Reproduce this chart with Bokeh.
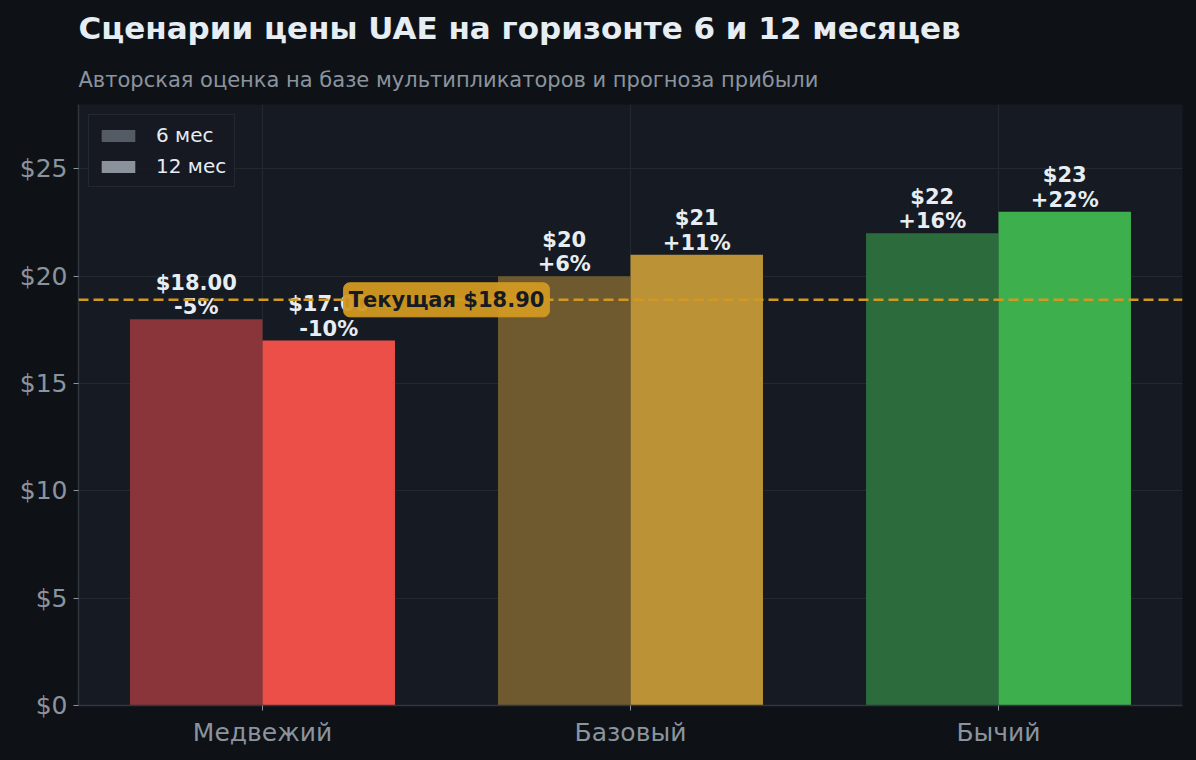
from bokeh.plotting import figure
from bokeh.models import (ColumnDataSource, FactorRange, FixedTicker, NumeralTickFormatter,
                          Span, Label, Legend, LegendItem, Title)
from bokeh.core.properties import value
from bokeh.transform import dodge
from bokeh.embed import file_html
from bokeh.resources import INLINE

# --- data ---
scenarios = ['Медвежий', 'Базовый', 'Бычий']
price_6m = [18.0, 20.0, 22.0]
price_12m = [17.0, 21.0, 23.0]
labels_6m = ['$18.00\n-5%', '$20\n+6%', '$22\n+16%']
labels_12m = ['$17.00\n-10%', '$21\n+11%', '$23\n+22%']
current_price = 18.90
y_ticks = [0, 5, 10, 15, 20, 25]

colors_6m = ['#8a3539', '#6f5a30', '#2b6b3c']
colors_12m = ['#ec4f48', '#bb9236', '#3daf4d']

BG = '#0e1217'
PANEL = '#161a22'
GRID = '#232831'
MUTED = '#8b949e'
TEXT = '#e6edf3'
ORANGE = '#d29922'
FONT = 'DejaVu Sans'

src = ColumnDataSource(data=dict(
    cat=scenarios, p6=price_6m, p12=price_12m,
    l6=labels_6m, l12=labels_12m, c6=colors_6m, c12=colors_12m))

p = figure(width=1196, height=760, x_range=FactorRange(*scenarios), y_range=(0, 28),
           output_backend="svg", toolbar_location=None,
           background_fill_color=PANEL, border_fill_color=BG,
           min_border_left=78, min_border_right=14, min_border_bottom=55,
           min_border_top=3)
p.outline_line_color = None

p.add_layout(Title(text='Авторская оценка на базе мультипликаторов и прогноза прибыли',
                   text_font=FONT, text_font_size='21px', text_font_style='normal',
                   text_color=MUTED, align='left', standoff=26), 'above')
p.add_layout(Title(text='Сценарии цены UAE на горизонте 6 и 12 месяцев',
                   text_font=FONT, text_font_size='31px', text_font_style='bold',
                   text_color=TEXT, align='left', standoff=14), 'above')

w = 0.36
p.vbar(x=dodge('cat', -w / 2, range=p.x_range), top='p6', width=w,
       source=src, fill_color='c6', line_color=None)
p.vbar(x=dodge('cat', w / 2, range=p.x_range), top='p12', width=w,
       source=src, fill_color='c12', line_color=None)

for col, lab, off in (('p6', 'l6', -w / 2), ('p12', 'l12', w / 2)):
    p.text(x=dodge('cat', off, range=p.x_range), y=col, text=lab, source=src,
           text_align='center', text_baseline='bottom', y_offset=0,
           text_font=value(FONT), text_font_size='21px', text_font_style='bold',
           text_color=TEXT, text_line_height=1.02)

p.add_layout(Span(location=current_price, dimension='width', line_color=ORANGE,
                  line_width=2.5, line_dash='10 5'))
p.add_layout(Label(x=1.0, y=current_price, text='Текущая $%.2f' % current_price,
                   text_align='center', text_baseline='middle',
                   text_font=FONT, text_font_size='21px', text_font_style='bold',
                   text_color='#161a22', background_fill_color=ORANGE,
                   background_fill_alpha=0.95, border_line_color=ORANGE,
                   border_radius=6, padding=5))

# legend swatches (zero-height bars, only for the legend)
g6 = p.vbar(x=[scenarios[0]], top=[0], width=0.01, fill_color='#555b65', line_color=None)
g12 = p.vbar(x=[scenarios[0]], top=[0], width=0.01, fill_color='#8b929b', line_color=None)
legend = Legend(items=[LegendItem(label='6 мес', renderers=[g6]),
                       LegendItem(label='12 мес', renderers=[g12])],
                location='top_left', background_fill_color=PANEL, background_fill_alpha=0.9,
                border_line_color='#30363d', border_line_width=1.5,
                label_text_color=TEXT, label_text_font=FONT, label_text_font_size='20px',
                glyph_width=42, glyph_height=15, label_standoff=17, spacing=7,
                label_height=24, padding=8, margin=10)
p.add_layout(legend)

p.xgrid.grid_line_color = GRID
p.ygrid.grid_line_color = GRID
p.ygrid.ticker = FixedTicker(ticks=y_ticks)
p.yaxis.ticker = FixedTicker(ticks=y_ticks)
p.yaxis.formatter = NumeralTickFormatter(format='$0')

for ax in (p.xaxis, p.yaxis):
    ax.axis_line_color = '#30363d'
    ax.axis_line_width = 1.5
    ax.major_tick_line_color = MUTED
    ax.major_tick_out = 5
    ax.major_tick_in = 0
    ax.minor_tick_line_color = None
    ax.major_label_text_color = MUTED
    ax.major_label_text_font = FONT
    ax.major_label_text_font_size = '25px'
p.xaxis.major_label_standoff = 7
p.yaxis.major_label_standoff = 6

template = """{% block preamble %}<style>html, body { background: #0e1217 !important; margin: 0 !important; overflow: hidden; }</style>{% endblock %}"""
open("out.html", "w").write(file_html(p, INLINE, template=template))
